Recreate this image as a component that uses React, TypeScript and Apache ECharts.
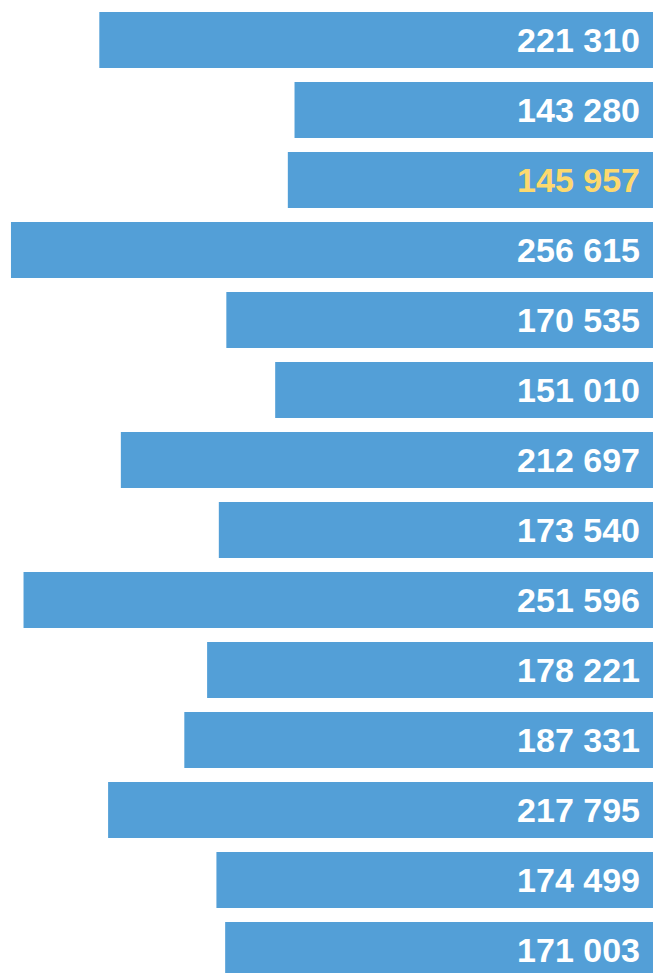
import React, { useEffect, useRef } from "react";
import * as echarts from "echarts";

const categories = [
  "A1", "A2", "A3", "A4", "A5", "A6", "A7",
  "A8", "A9", "A10", "A11", "A12", "A13", "A14",
];
const values = [
  221310, 143280, 145957, 256615, 170535, 151010, 212697,
  173540, 251596, 178221, 187331, 217795, 174499, 171003,
];
const highlightIndex = 2;

const fmt = (v: number) => {
  const s = String(Math.round(v));
  return s.replace(/\B(?=(\d{3})+(?!\d))/g, " ");
};

export default function App() {
  const ref = useRef<HTMLDivElement>(null);
  useEffect(() => {
    if (!ref.current) return;
    const chart = echarts.init(ref.current, null, { renderer: "svg" });
    chart.setOption({
      animation: false,
      backgroundColor: "#ffffff",
      grid: { left: 0, right: 0, top: 5, height: 980, containLabel: false },
      xAxis: {
        type: "value",
        inverse: true,
        min: 0,
        max: 261000,
        show: false,
      },
      yAxis: {
        type: "category",
        inverse: true,
        data: categories,
        show: false,
      },
      series: [
        {
          type: "bar",
          data: values.map((v, i) => ({
            value: v,
            label: {
              color: i === highlightIndex ? "#FDD96E" : "#ffffff",
            },
          })),
          barWidth: 56,
          itemStyle: { color: "#539FD7" },
          label: {
            show: true,
            position: "insideRight",
            distance: 13,
            fontFamily: "Liberation Sans, Arial, sans-serif",
            fontWeight: "bold",
            fontSize: 34,
            formatter: (p: any) => fmt(p.value),
          },
        },
      ],
    });
    return () => chart.dispose();
  }, []);
  return (
    <div
      style={{
        position: "absolute",
        left: 0,
        top: 0,
        width: 653,
        height: 973,
        overflow: "hidden",
        background: "#ffffff",
      }}
    >
      <div ref={ref} style={{ width: 653, height: 990 }} />
    </div>
  );
}
